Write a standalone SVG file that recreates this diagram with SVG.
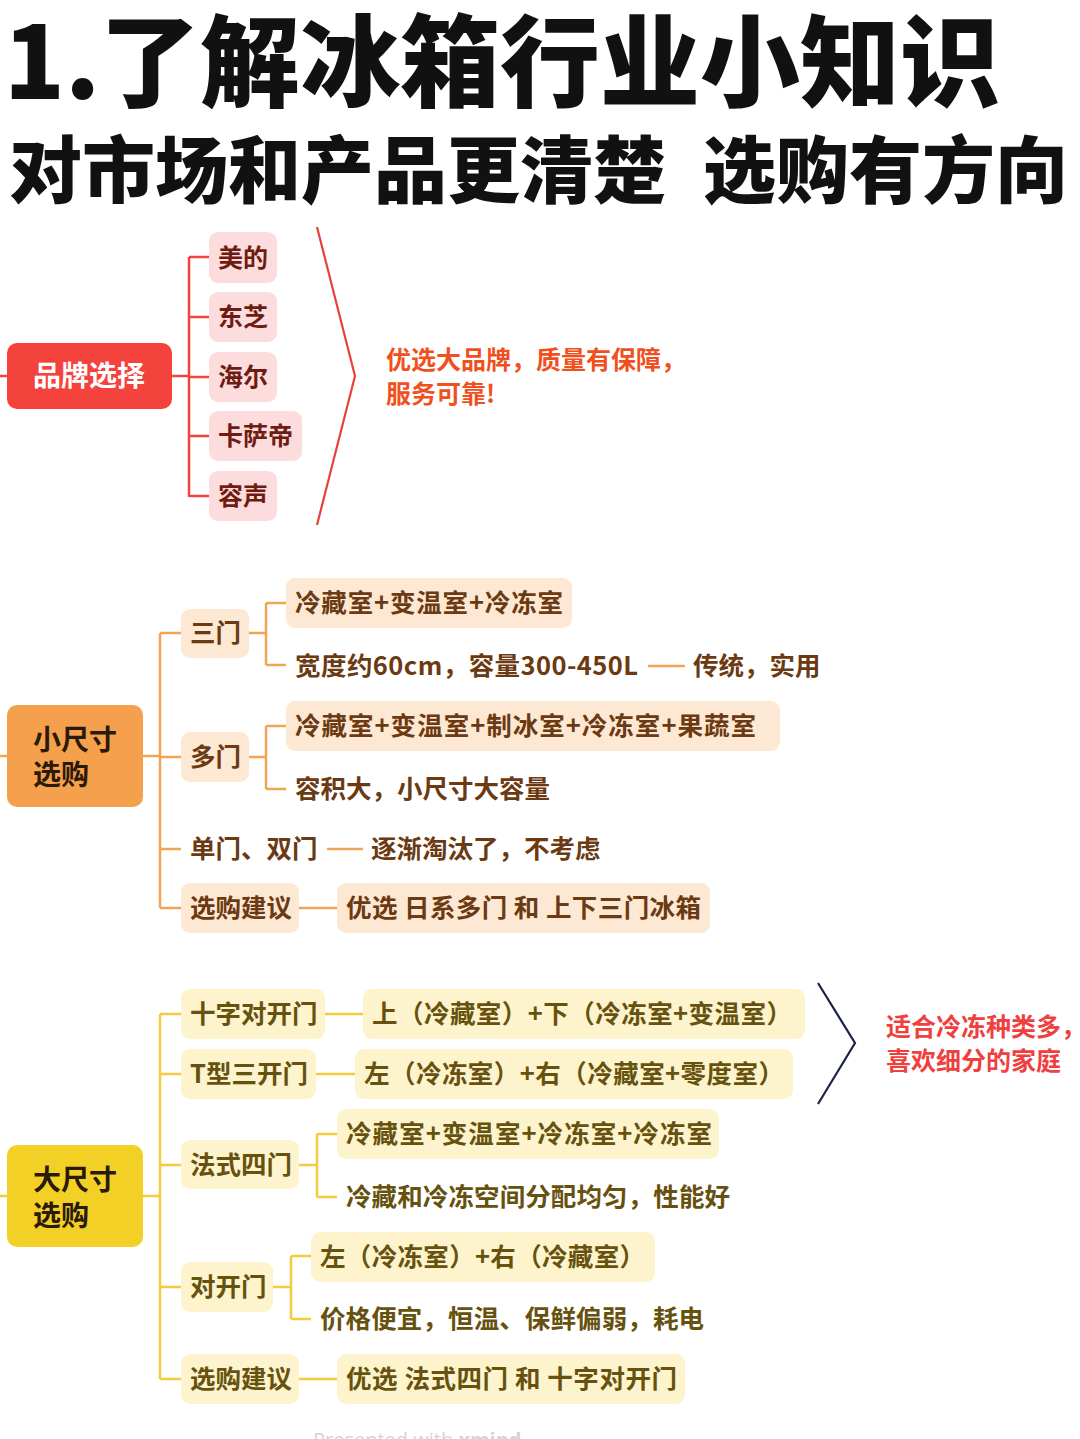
<svg xmlns="http://www.w3.org/2000/svg" width="1080" height="1439" viewBox="0 0 1080 1439">
<style>
text{font-family:"Noto Sans CJK SC","Noto Sans",sans-serif;font-weight:700}
.t1{font-size:100px;font-weight:900;fill:#111}
.t2{font-size:73px;font-weight:900;fill:#111}
.rroot{fill:#f4433c}
.rbox{fill:#fcdcdc}
.rtx{font-size:25px;fill:#6e1c12}
.rl{stroke:#f0453c;stroke-width:2.5;fill:none}
.oroot{fill:#f5a04c}
.obox{fill:#fde8d4}
.otx{font-size:25.5px;fill:#6b3a12}
.ol{stroke:#f2a456;stroke-width:2.5;fill:none}
.yroot{fill:#f2d026}
.ybox{fill:#fdf3cc}
.ytx{font-size:25.5px;fill:#66520e}
.yl{stroke:#f2cc3a;stroke-width:2.5;fill:none}
.roottx{font-size:28px;fill:#2b1a08}
.note{font-size:25px}
</style>
<rect width="1080" height="1439" fill="#ffffff"/>
<g id="title">
<text class="t1" x="4" y="99">1.了解冰箱行业小知识</text>
<text class="t2" x="9" y="197">对市场和产品更清楚</text>
<text class="t2" x="703" y="197">选购有方向</text>
</g>
<g id="connectors">
<path class="rl" d="M0 376H7M172 376H189M189 257V497M189 257H209M189 317H209M189 377H209M189 436H209M189 496H209"/>
<path d="M317 227L355 376L317 525" stroke="#e8403a" stroke-width="2.2" fill="none"/>
<path class="ol" d="M0 756H7M143 756H160M160 633V908M160 633H181M160 757H181M160 849H181M160 908H181"/>
<path class="ol" d="M249 633H266M266 603V665M266 603H286M266 665H286"/>
<path class="ol" d="M249 757H266M266 726V789M266 726H286M266 789H286"/>
<path class="ol" d="M648 666H685M327 849H363M299 908H337"/>
<path class="yl" d="M0 1196H7M143 1196H160M160 1014V1379M160 1014H181M160 1074H181M160 1165H181M160 1287H181M160 1379H181"/>
<path class="yl" d="M325 1014H363M316 1074H355M299 1379H337"/>
<path class="yl" d="M299 1165H317M317 1134V1197M317 1134H337M317 1197H337"/>
<path class="yl" d="M273 1287H291M291 1256V1319M291 1256H311M291 1319H311"/>
<path d="M818 983L855 1043L818 1104" stroke="#1c2244" stroke-width="2.2" fill="none"/>
</g>
<g id="brand-root"><rect class="rroot" x="7" y="343" width="165" height="66" rx="10"/><text x="89" y="386" text-anchor="middle" style="font-size:28px;fill:#fff">品牌选择</text></g>
<g id="brand-midea"><rect class="rbox" x="209" y="232" width="68" height="51" rx="9"/><text class="rtx" x="218" y="267">美的</text></g>
<g id="brand-toshiba"><rect class="rbox" x="209" y="292" width="68" height="50" rx="9"/><text class="rtx" x="218" y="326">东芝</text></g>
<g id="brand-haier"><rect class="rbox" x="209" y="352" width="68" height="50" rx="9"/><text class="rtx" x="218" y="386">海尔</text></g>
<g id="brand-casarte"><rect class="rbox" x="209" y="411" width="93" height="50" rx="9"/><text class="rtx" x="218" y="445">卡萨帝</text></g>
<g id="brand-ronshen"><rect class="rbox" x="209" y="471" width="68" height="50" rx="9"/><text class="rtx" x="218" y="505">容声</text></g>
<g id="brand-note"><text class="note" x="386" y="369" fill="#f0501e" textLength="300" lengthAdjust="spacing">优选大品牌，质量有保障，</text><text class="note" x="386" y="403" fill="#f0501e">服务可靠!</text></g>

<g id="small-root"><rect class="oroot" x="7" y="705" width="136" height="102" rx="10"/><text class="roottx" x="33" y="750">小尺寸</text><text class="roottx" x="33" y="785">选购</text></g>
<g id="small-three"><rect class="obox" x="181" y="609" width="68" height="49" rx="9"/><text class="otx" x="190" y="642">三门</text></g>
<g id="small-three-a"><rect class="obox" x="286" y="578" width="286" height="50" rx="9"/><text class="otx" x="295" y="612" textLength="268" lengthAdjust="spacing">冷藏室+变温室+冷冻室</text></g>
<g id="small-three-b"><text class="otx" x="295" y="675" textLength="343" lengthAdjust="spacing">宽度约60cm，容量300-450L</text></g>
<g id="small-three-c"><text class="otx" x="693" y="675">传统，实用</text></g>
<g id="small-multi"><rect class="obox" x="181" y="732" width="68" height="50" rx="9"/><text class="otx" x="190" y="766">多门</text></g>
<g id="small-multi-a"><rect class="obox" x="286" y="701" width="494" height="50" rx="9"/><text class="otx" x="295" y="735" textLength="461" lengthAdjust="spacing">冷藏室+变温室+制冰室+冷冻室+果蔬室</text></g>
<g id="small-multi-b"><text class="otx" x="295" y="798">容积大，小尺寸大容量</text></g>
<g id="small-single"><text class="otx" x="190" y="858">单门、双门</text></g>
<g id="small-single-b"><text class="otx" x="371" y="858">逐渐淘汰了，不考虑</text></g>
<g id="small-advice"><rect class="obox" x="181" y="883" width="118" height="50" rx="9"/><text class="otx" x="190" y="917">选购建议</text></g>
<g id="small-advice-b"><rect class="obox" x="337" y="883" width="373" height="50" rx="9"/><text class="otx" x="346" y="917" textLength="355" lengthAdjust="spacing">优选 日系多门 和 上下三门冰箱</text></g>

<g id="large-root"><rect class="yroot" x="7" y="1145" width="136" height="102" rx="10"/><text class="roottx" x="33" y="1190">大尺寸</text><text class="roottx" x="33" y="1226">选购</text></g>
<g id="large-cross"><rect class="ybox" x="181" y="989" width="144" height="50" rx="9"/><text class="ytx" x="190" y="1023">十字对开门</text></g>
<g id="large-cross-b"><rect class="ybox" x="363" y="989" width="442" height="50" rx="9"/><text class="ytx" x="372" y="1023" textLength="420" lengthAdjust="spacing">上（冷藏室）+下（冷冻室+变温室）</text></g>
<g id="large-t"><rect class="ybox" x="181" y="1049" width="135" height="50" rx="9"/><text class="ytx" x="190" y="1083">T型三开门</text></g>
<g id="large-t-b"><rect class="ybox" x="355" y="1049" width="438" height="50" rx="9"/><text class="ytx" x="364" y="1083" textLength="420" lengthAdjust="spacing">左（冷冻室）+右（冷藏室+零度室）</text></g>
<g id="large-french"><rect class="ybox" x="181" y="1140" width="118" height="49" rx="9"/><text class="ytx" x="190" y="1174">法式四门</text></g>
<g id="large-french-a"><rect class="ybox" x="337" y="1109" width="382" height="50" rx="9"/><text class="ytx" x="346" y="1143" textLength="366" lengthAdjust="spacing">冷藏室+变温室+冷冻室+冷冻室</text></g>
<g id="large-french-b"><text class="ytx" x="346" y="1206" textLength="384" lengthAdjust="spacing">冷藏和冷冻空间分配均匀，性能好</text></g>
<g id="large-side"><rect class="ybox" x="181" y="1262" width="92" height="50" rx="9"/><text class="ytx" x="190" y="1296">对开门</text></g>
<g id="large-side-a"><rect class="ybox" x="311" y="1232" width="344" height="50" rx="9"/><text class="ytx" x="320" y="1266" textLength="325" lengthAdjust="spacing">左（冷冻室）+右（冷藏室）</text></g>
<g id="large-side-b"><text class="ytx" x="320" y="1328" textLength="384" lengthAdjust="spacing">价格便宜，恒温、保鲜偏弱，耗电</text></g>
<g id="large-advice"><rect class="ybox" x="181" y="1354" width="118" height="50" rx="9"/><text class="ytx" x="190" y="1388">选购建议</text></g>
<g id="large-advice-b"><rect class="ybox" x="337" y="1354" width="348" height="50" rx="9"/><text class="ytx" x="346" y="1388" textLength="331" lengthAdjust="spacing">优选 法式四门 和 十字对开门</text></g>
<g id="large-note"><text class="note" x="886" y="1036" fill="#ef3f3f" textLength="200" lengthAdjust="spacing">适合冷冻种类多，</text><text class="note" x="886" y="1070" fill="#ef3f3f">喜欢细分的家庭</text></g>
<g id="watermark"><text x="313" y="1447" style="font-family:'Open Sans','Noto Sans',sans-serif;font-weight:400;font-size:20px;fill:#d4d4d4">Presented with <tspan style="font-weight:700">xmind</tspan></text></g>
</svg>
